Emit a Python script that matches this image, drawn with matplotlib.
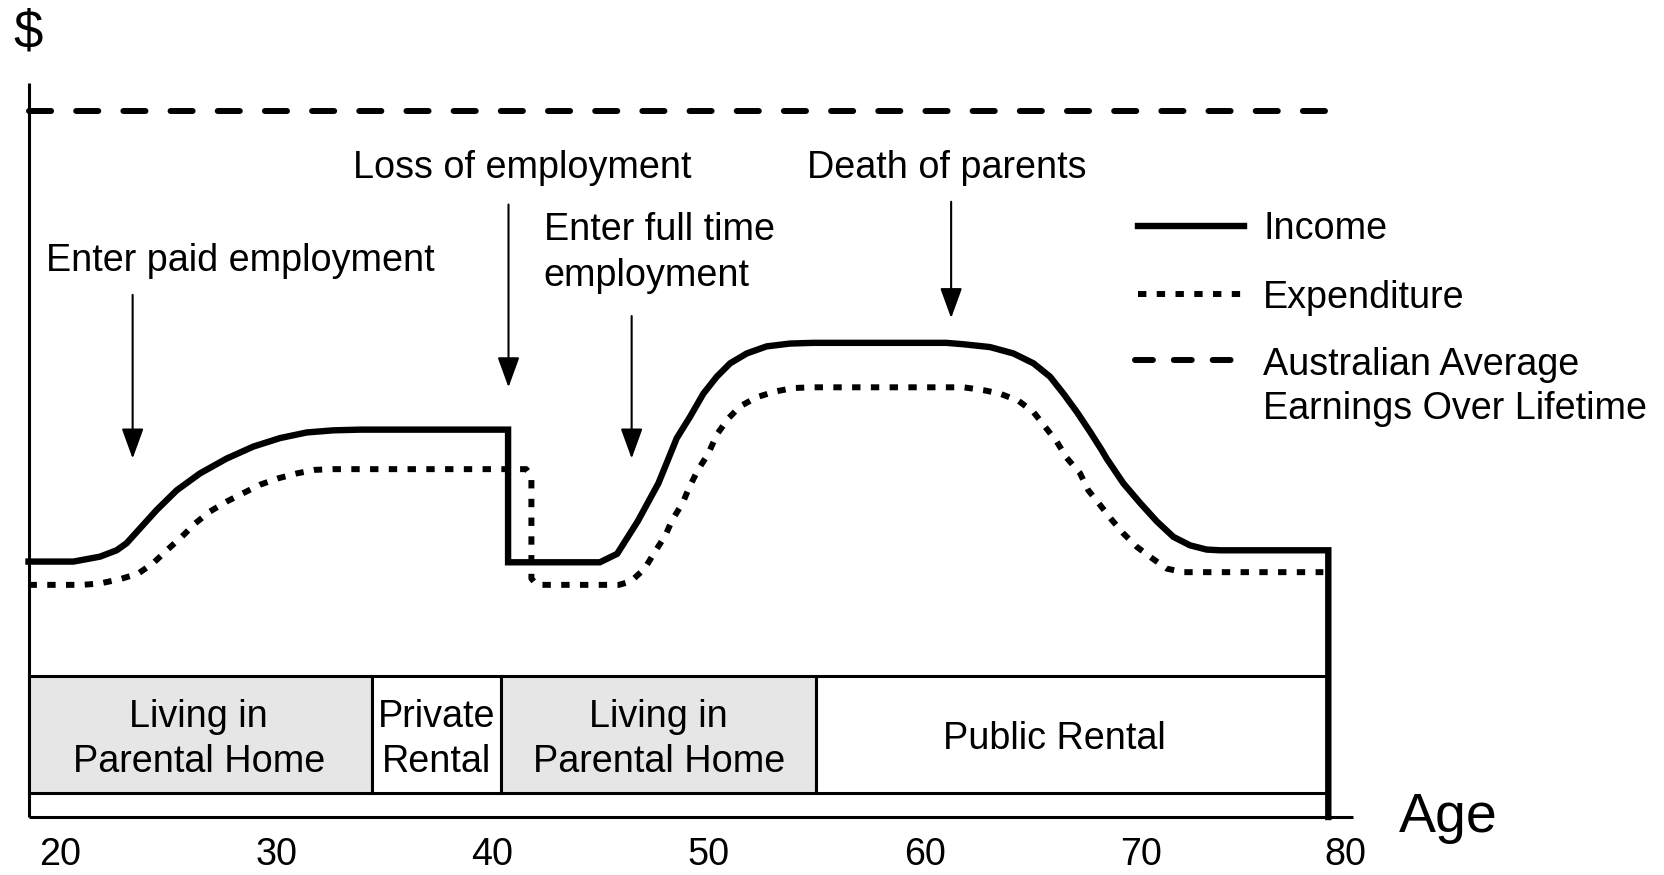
# %%

import matplotlib.pyplot as plt

plt.rcParams['font.family'] = ['Liberation Sans', 'DejaVu Sans']

# ages (x) and $ levels (y, average earnings = 100)
income_age = [18.52, 20.6, 21.83, 22.60, 23.06, 23.68, 24.45, 25.38, 26.46, 27.69, 28.93,
              30.16, 31.40, 32.63, 33.87, 40.72,
              40.72, 44.97, 45.77, 46.72, 47.68, 48.53, 49.14, 49.76, 50.38, 51.00, 51.77,
              52.69, 53.77, 54.85, 61.0, 61.80, 63.03, 64.11, 65.04, 65.81, 66.43, 67.05,
              67.66, 68.20, 68.43, 69.20, 69.98, 70.75, 71.52, 72.29, 73.06, 73.68, 78.69, 78.69]
income_val = [36.2, 36.2, 36.9, 37.8, 38.8, 40.9, 43.5, 46.3, 48.7, 50.8, 52.5,
              53.7, 54.5, 54.8, 54.9, 54.9,
              36.1, 36.1, 37.3, 41.9, 47.3, 53.7, 56.7, 60.0, 62.4, 64.3, 65.7,
              66.7, 67.1, 67.2, 67.2, 67.0, 66.6, 65.7, 64.3, 62.4, 60.0, 57.4,
              54.6, 52.0, 50.8, 47.3, 44.5, 41.9, 39.7, 38.5, 37.9, 37.8, 37.8, 0]

exp_age = [18.52, 21.0, 21.83, 22.75, 23.60, 24.30, 24.92, 25.61, 26.23, 26.92, 27.69, 28.46,
           29.24, 30.08, 30.94, 31.78, 32.63, 41.56, 41.80, 41.80, 42.04,
           45.85, 46.41, 47.04, 47.52, 48.00, 48.32, 48.80, 49.12, 49.51, 49.99, 50.38,
           50.92, 51.46, 52.23, 53.08, 53.93, 54.85, 61.80, 62.72, 63.49, 64.34, 65.04,
           65.58, 66.12, 66.58, 67.20, 67.58, 68.13, 68.67, 69.20, 69.82, 70.52, 71.21,
           71.98, 78.46]
exp_val = [32.9, 32.9, 33.1, 33.7, 34.5, 36.0, 37.8, 39.7, 41.6, 43.3, 44.7, 45.9,
           47.1, 48.0, 48.7, 49.2, 49.3, 49.3, 48.3, 33.8, 32.9,
           32.9, 33.4, 35.2, 37.6, 39.9, 42.1, 44.5, 46.8, 49.2, 51.5, 54.2,
           56.5, 58.2, 59.5, 60.3, 60.8, 60.9, 60.9, 60.5, 60.0, 59.0, 57.4,
           55.3, 53.2, 50.9, 48.7, 46.3, 44.2, 42.1, 40.2, 38.3, 36.7, 35.2,
           34.7, 34.7]

avg_age = [18.52, 78.76]
avg_val = [100, 100]

# housing stages
stage_start = [18.53, 34.40, 40.39, 54.99]
stage_end = [34.40, 40.39, 54.99, 78.62]
stage_label = ['Living in\nParental Home', 'Private\nRental', 'Living in\nParental Home', 'Public Rental']
stage_text_x = [26.4, 37.4, 47.7, 66.0]
stage_fill = ['#e6e6e6', 'white', '#e6e6e6', 'white']
stage_bottom = 3.44
stage_top = 20.0

# life events: label, text x, text y, arrow x, arrow start, arrow end
events = ['Enter paid employment', 'Loss of employment', 'Enter full time\nemployment', 'Death of parents']
event_tx = [19.31, 33.56, 42.36, 54.55]
event_ty = [78.75, 92.05, 79.95, 92.05]
arrow_x = [23.34, 40.74, 46.44, 61.23]
arrow_from = [74.0, 86.8, 71.0, 87.2]
arrow_to = [50.8, 60.9, 50.8, 70.7]

ticks = [20, 30, 40, 50, 60, 70, 80]
tick_pos = [20, 30, 40, 50, 60, 70, 79.5]

fig = plt.figure(figsize=(16.64, 8.75), dpi=100)
ax = fig.add_axes([0, 0, 1, 1])
ax.set_xlim(17.2, 94.23)
ax.set_ylim(-8.22, 115.79)
ax.axis('off')

fs = 27.2
exp_style = (0, (1.4, 1.74))

# axes lines
ax.plot([18.53, 18.53], [0, 104], color='black', lw=2.2, solid_capstyle='butt')
ax.plot([18.53, 79.85], [0, 0], color='black', lw=2.2, solid_capstyle='butt')

# stage boxes
widths = [e - s for s, e in zip(stage_start, stage_end)]
ax.bar(stage_start, stage_top - stage_bottom, width=widths, bottom=stage_bottom, align='edge',
       color=stage_fill, edgecolor='black', linewidth=2.2, zorder=2)
for x, lab in zip(stage_text_x, stage_label):
    ax.text(x, (stage_top + stage_bottom) / 2 - 0.7, lab, ha='center', va='center',
            fontsize=fs, linespacing=1.33, zorder=3)

# series
ax.plot(avg_age, avg_val, color='black', lw=4.3, linestyle=(0, (3.7, 4.2)),
        dash_capstyle='round')
ax.plot(exp_age, exp_val, color='black', lw=4.3, linestyle=exp_style,
        dash_capstyle='butt', zorder=4)
ax.plot(income_age, income_val, color='black', lw=4.6, solid_joinstyle='miter', zorder=5)

# events
for lab, tx, ty, x, y0, y1 in zip(events, event_tx, event_ty, arrow_x, arrow_from, arrow_to):
    ax.text(tx, ty, lab, ha='left', va='center', fontsize=fs, linespacing=1.37)
    ax.annotate('', xy=(x, y1), xytext=(x, y0),
                arrowprops=dict(arrowstyle='-|>,head_length=1.1,head_width=0.4',
                                mutation_scale=17, lw=1.5, color='black',
                                shrinkA=0, shrinkB=0))

# legend drawn by hand
ax.plot([69.88, 74.79], [83.8, 83.8], color='black', lw=4.6)
ax.text(75.67, 83.3, 'Income', ha='left', va='center', fontsize=fs)
ax.plot([69.88, 74.79], [74.1, 74.1], color='black', lw=4.3, linestyle=exp_style)
ax.text(75.67, 73.6, 'Expenditure', ha='left', va='center', fontsize=fs)
ax.plot([69.75, 74.9], [64.7, 64.7], color='black', lw=4.3, linestyle=(0, (3.0, 3.5)),
        dash_capstyle='round')
ax.text(75.67, 61.0, 'Australian Average\nEarnings Over Lifetime', ha='left', va='center',
        fontsize=fs, linespacing=1.29)

# axis labels
ax.text(18.48, 111.0, '$', ha='center', va='center', fontsize=38)
ax.text(81.97, -0.2, 'Age', ha='left', va='center', fontsize=40)
for t, p in zip(ticks, tick_pos):
    ax.text(p, -5.45, str(t), ha='center', va='center', fontsize=fs)

fig.savefig('out.png', dpi=100)
